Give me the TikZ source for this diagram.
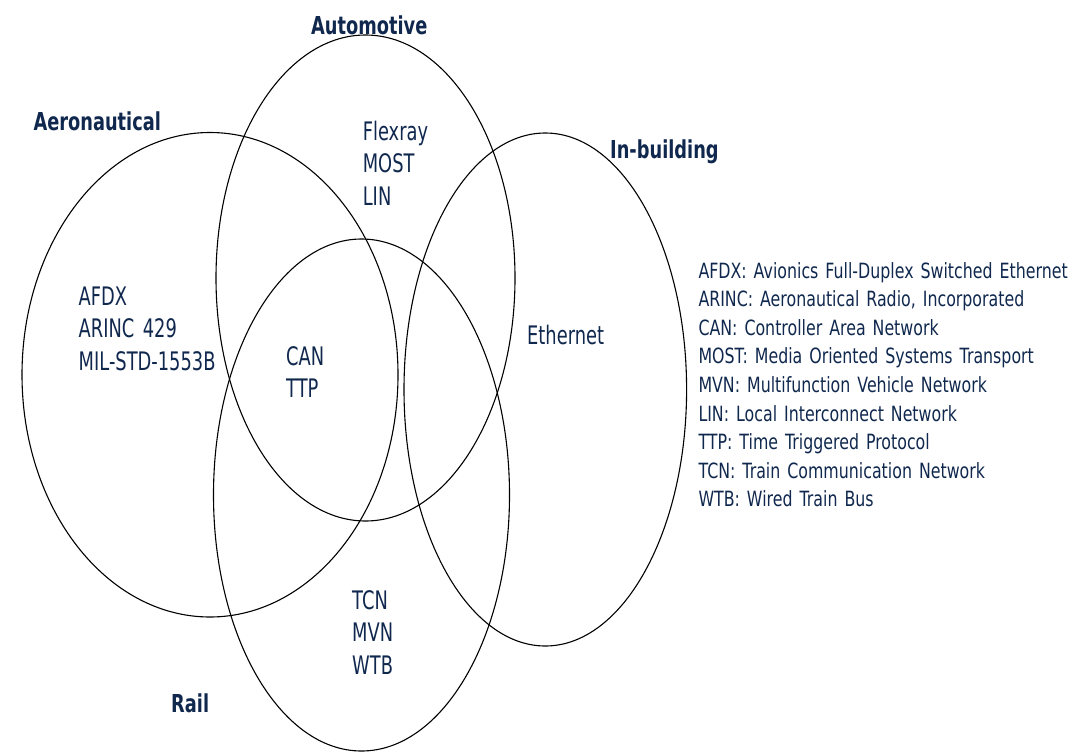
\documentclass[tikz,border=0pt]{standalone}
\usepackage{fontspec}
\setmainfont{DejaVu Sans}[FakeStretch=0.70]
\newfontfamily\legendfont{DejaVu Sans}[FakeStretch=0.753]
\newfontfamily\titlefont{DejaVu Sans}[FakeStretch=0.72]
\usetikzlibrary{shapes.geometric}
\definecolor{navy}{RGB}{16,40,78}
\tikzset{
  setellipse/.style={ellipse, draw=black, line width=1.1pt, inner sep=0pt},
  setlabel/.style={anchor=base west, inner sep=0pt, text=navy, text width=220pt, align=left,
    font={\fontsize{25.5}{32.5}\selectfont}},
  settitle/.style={anchor=base west, inner sep=0pt, text=navy,
    font={\titlefont\fontsize{24.7}{30}\selectfont\bfseries}},
  legendtext/.style={anchor=base west, inner sep=0pt, text=navy, text width=420pt, align=left,
    font={\legendfont\fontsize{21}{28.55}\selectfont}}
}
\begin{document}
\begin{tikzpicture}[x=1pt,y=-1pt]
\useasboundingbox (0,0) rectangle (1078,752);
% sets
\node[setellipse, minimum width=376pt, minimum height=484.5pt] (aero) at (210,374.75) {};
\node[setellipse, minimum width=299pt, minimum height=486pt] (auto) at (365.5,278) {};
\node[setellipse, minimum width=296pt, minimum height=512pt] (rail) at (361.5,495) {};
\node[setellipse, minimum width=282.6pt, minimum height=513pt] (bldg) at (545.3,389.5) {};
% titles
\node[settitle] (taero) at (33.4,130.7) {Aeronautical};
\node[settitle] (tauto) at (311,34.3) {Automotive};
\node[settitle] (tbldg) at (610,158.4) {In-building};
\node[settitle] (trail) at (171,712) {Rail};
% contents
\node[setlabel] (laero) at (78.5,305) {AFDX\\ARINC 429\\MIL-STD-1553B};
\node[setlabel] (lauto) at (362.6,140) {Flexray\\MOST\\LIN};
\node[setlabel] (lcan) at (286,365) {CAN\\TTP};
\node[setlabel] (lbldg) at (527,344) {Ethernet};
\node[setlabel] (lrail) at (352,609) {TCN\\MVN\\WTB};
% legend
\node[legendtext] (legend) at (698.3,278.3) {AFDX: Avionics Full-Duplex Switched Ethernet\\
ARINC: Aeronautical Radio, Incorporated\\
CAN: Controller Area Network\\
MOST: Media Oriented Systems Transport\\
MVN: Multifunction Vehicle Network\\
LIN: Local Interconnect Network\\
TTP: Time Triggered Protocol\\
TCN: Train Communication Network\\
WTB: Wired Train Bus};
\end{tikzpicture}
\end{document}
